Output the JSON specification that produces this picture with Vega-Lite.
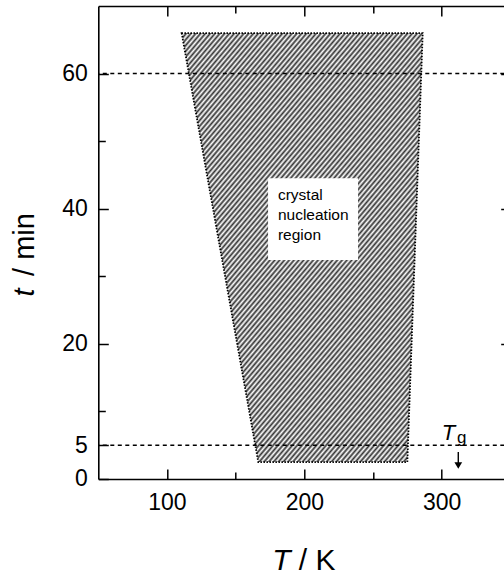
{
  "$schema": "https://vega.github.io/schema/vega-lite/v6.json",
  "width": 406,
  "height": 473,
  "autosize": {"type": "none"},
  "padding": {"left": 98.3, "top": 6, "right": 0, "bottom": 96},
  "config": {
    "view": {"stroke": null},
    "axis": {
      "grid": false,
      "labelFont": "Liberation Sans",
      "titleFont": "Liberation Sans",
      "labelColor": "#000",
      "titleColor": "#000",
      "tickColor": "#000",
      "domainColor": "#000",
      "tickWidth": 1.5,
      "domainWidth": 1.6,
      "labelFontSize": 23,
      "labelFontWeight": "normal",
      "titleFontWeight": "normal"
    }
  },
  "datasets": {
    "trap": [{"t": 66, "Tl": 110.7, "Tr": 286.2}, {"t": 2.5, "Tl": 166.5, "Tr": 275}],
    "box": [{"T1": 173.6, "T2": 239.1, "t1": 32.4, "t2": 44.5}],
    "hlines": [{"t": 60}, {"t": 5}],
    "label": [{"T": 180.8, "t": 42.0, "s": "crystal\nnucleation\nregion"}],
    "tgT": [{"T": 305.0, "t": 5.77, "s": "T"}],
    "tgg": [{"T": 314.6, "t": 5.3, "s": "g"}],
    "arrow": [{"T": 312.1, "t1": 4.0, "t2": 2.3}],
    "head": [{"T": 312.1, "t": 2.0}]
  },
  "resolve": {"axis": {"x": "independent", "y": "independent"}},
  "layer": [
    {
      "data": {"name": "trap"},
      "mark": {
        "type": "area",
        "orient": "horizontal",
        "interpolate": "linear",
        "stroke": "#000",
        "strokeDash": [1.5, 1.5],
        "strokeWidth": 1.8,
        "fill": {
          "gradient": "linear",
          "x1": 0, "y1": 0, "x2": 0.771, "y2": 1.153,
          "stops": [
            {"offset":0,"color":"#333"},{"offset":0.004,"color":"#fff"},{"offset":0.008,"color":"#333"},{"offset":0.012,"color":"#fff"},{"offset":0.016,"color":"#333"},{"offset":0.02,"color":"#fff"},{"offset":0.024,"color":"#333"},{"offset":0.028,"color":"#fff"},{"offset":0.032,"color":"#333"},{"offset":0.036,"color":"#fff"},
            {"offset":0.04,"color":"#333"},{"offset":0.044,"color":"#fff"},{"offset":0.048,"color":"#333"},{"offset":0.052,"color":"#fff"},{"offset":0.056,"color":"#333"},{"offset":0.06,"color":"#fff"},{"offset":0.064,"color":"#333"},{"offset":0.068,"color":"#fff"},{"offset":0.072,"color":"#333"},{"offset":0.076,"color":"#fff"},
            {"offset":0.08,"color":"#333"},{"offset":0.084,"color":"#fff"},{"offset":0.088,"color":"#333"},{"offset":0.092,"color":"#fff"},{"offset":0.096,"color":"#333"},{"offset":0.1,"color":"#fff"},{"offset":0.104,"color":"#333"},{"offset":0.108,"color":"#fff"},{"offset":0.112,"color":"#333"},{"offset":0.116,"color":"#fff"},
            {"offset":0.12,"color":"#333"},{"offset":0.124,"color":"#fff"},{"offset":0.128,"color":"#333"},{"offset":0.132,"color":"#fff"},{"offset":0.136,"color":"#333"},{"offset":0.14,"color":"#fff"},{"offset":0.144,"color":"#333"},{"offset":0.148,"color":"#fff"},{"offset":0.152,"color":"#333"},{"offset":0.156,"color":"#fff"},
            {"offset":0.16,"color":"#333"},{"offset":0.164,"color":"#fff"},{"offset":0.168,"color":"#333"},{"offset":0.172,"color":"#fff"},{"offset":0.176,"color":"#333"},{"offset":0.18,"color":"#fff"},{"offset":0.184,"color":"#333"},{"offset":0.188,"color":"#fff"},{"offset":0.192,"color":"#333"},{"offset":0.196,"color":"#fff"},
            {"offset":0.2,"color":"#333"},{"offset":0.204,"color":"#fff"},{"offset":0.208,"color":"#333"},{"offset":0.212,"color":"#fff"},{"offset":0.216,"color":"#333"},{"offset":0.22,"color":"#fff"},{"offset":0.224,"color":"#333"},{"offset":0.228,"color":"#fff"},{"offset":0.232,"color":"#333"},{"offset":0.236,"color":"#fff"},
            {"offset":0.24,"color":"#333"},{"offset":0.244,"color":"#fff"},{"offset":0.248,"color":"#333"},{"offset":0.252,"color":"#fff"},{"offset":0.256,"color":"#333"},{"offset":0.26,"color":"#fff"},{"offset":0.264,"color":"#333"},{"offset":0.268,"color":"#fff"},{"offset":0.272,"color":"#333"},{"offset":0.276,"color":"#fff"},
            {"offset":0.28,"color":"#333"},{"offset":0.284,"color":"#fff"},{"offset":0.288,"color":"#333"},{"offset":0.292,"color":"#fff"},{"offset":0.296,"color":"#333"},{"offset":0.3,"color":"#fff"},{"offset":0.304,"color":"#333"},{"offset":0.308,"color":"#fff"},{"offset":0.312,"color":"#333"},{"offset":0.316,"color":"#fff"},
            {"offset":0.32,"color":"#333"},{"offset":0.324,"color":"#fff"},{"offset":0.328,"color":"#333"},{"offset":0.332,"color":"#fff"},{"offset":0.336,"color":"#333"},{"offset":0.34,"color":"#fff"},{"offset":0.344,"color":"#333"},{"offset":0.348,"color":"#fff"},{"offset":0.352,"color":"#333"},{"offset":0.356,"color":"#fff"},
            {"offset":0.36,"color":"#333"},{"offset":0.364,"color":"#fff"},{"offset":0.368,"color":"#333"},{"offset":0.372,"color":"#fff"},{"offset":0.376,"color":"#333"},{"offset":0.38,"color":"#fff"},{"offset":0.384,"color":"#333"},{"offset":0.388,"color":"#fff"},{"offset":0.392,"color":"#333"},{"offset":0.396,"color":"#fff"},
            {"offset":0.4,"color":"#333"},{"offset":0.404,"color":"#fff"},{"offset":0.408,"color":"#333"},{"offset":0.412,"color":"#fff"},{"offset":0.416,"color":"#333"},{"offset":0.42,"color":"#fff"},{"offset":0.424,"color":"#333"},{"offset":0.428,"color":"#fff"},{"offset":0.432,"color":"#333"},{"offset":0.436,"color":"#fff"},
            {"offset":0.44,"color":"#333"},{"offset":0.444,"color":"#fff"},{"offset":0.448,"color":"#333"},{"offset":0.452,"color":"#fff"},{"offset":0.456,"color":"#333"},{"offset":0.46,"color":"#fff"},{"offset":0.464,"color":"#333"},{"offset":0.468,"color":"#fff"},{"offset":0.472,"color":"#333"},{"offset":0.476,"color":"#fff"},
            {"offset":0.48,"color":"#333"},{"offset":0.484,"color":"#fff"},{"offset":0.488,"color":"#333"},{"offset":0.492,"color":"#fff"},{"offset":0.496,"color":"#333"},{"offset":0.5,"color":"#fff"},{"offset":0.504,"color":"#333"},{"offset":0.508,"color":"#fff"},{"offset":0.512,"color":"#333"},{"offset":0.516,"color":"#fff"},
            {"offset":0.52,"color":"#333"},{"offset":0.524,"color":"#fff"},{"offset":0.528,"color":"#333"},{"offset":0.532,"color":"#fff"},{"offset":0.536,"color":"#333"},{"offset":0.54,"color":"#fff"},{"offset":0.544,"color":"#333"},{"offset":0.548,"color":"#fff"},{"offset":0.552,"color":"#333"},{"offset":0.556,"color":"#fff"},
            {"offset":0.56,"color":"#333"},{"offset":0.564,"color":"#fff"},{"offset":0.568,"color":"#333"},{"offset":0.572,"color":"#fff"},{"offset":0.576,"color":"#333"},{"offset":0.58,"color":"#fff"},{"offset":0.584,"color":"#333"},{"offset":0.588,"color":"#fff"},{"offset":0.592,"color":"#333"},{"offset":0.596,"color":"#fff"},
            {"offset":0.6,"color":"#333"},{"offset":0.604,"color":"#fff"},{"offset":0.608,"color":"#333"},{"offset":0.612,"color":"#fff"},{"offset":0.616,"color":"#333"},{"offset":0.62,"color":"#fff"},{"offset":0.624,"color":"#333"},{"offset":0.628,"color":"#fff"},{"offset":0.632,"color":"#333"},{"offset":0.636,"color":"#fff"},
            {"offset":0.64,"color":"#333"},{"offset":0.644,"color":"#fff"},{"offset":0.648,"color":"#333"},{"offset":0.652,"color":"#fff"},{"offset":0.656,"color":"#333"},{"offset":0.66,"color":"#fff"},{"offset":0.664,"color":"#333"},{"offset":0.668,"color":"#fff"},{"offset":0.672,"color":"#333"},{"offset":0.676,"color":"#fff"},
            {"offset":0.68,"color":"#333"},{"offset":0.684,"color":"#fff"},{"offset":0.688,"color":"#333"},{"offset":0.692,"color":"#fff"},{"offset":0.696,"color":"#333"},{"offset":0.7,"color":"#fff"},{"offset":0.704,"color":"#333"},{"offset":0.708,"color":"#fff"},{"offset":0.712,"color":"#333"},{"offset":0.716,"color":"#fff"},
            {"offset":0.72,"color":"#333"},{"offset":0.724,"color":"#fff"},{"offset":0.728,"color":"#333"},{"offset":0.732,"color":"#fff"},{"offset":0.736,"color":"#333"},{"offset":0.74,"color":"#fff"},{"offset":0.744,"color":"#333"},{"offset":0.748,"color":"#fff"},{"offset":0.752,"color":"#333"},{"offset":0.756,"color":"#fff"},
            {"offset":0.76,"color":"#333"},{"offset":0.764,"color":"#fff"},{"offset":0.768,"color":"#333"},{"offset":0.772,"color":"#fff"},{"offset":0.776,"color":"#333"},{"offset":0.78,"color":"#fff"},{"offset":0.784,"color":"#333"},{"offset":0.788,"color":"#fff"},{"offset":0.792,"color":"#333"},{"offset":0.796,"color":"#fff"},
            {"offset":0.8,"color":"#333"},{"offset":0.804,"color":"#fff"},{"offset":0.808,"color":"#333"},{"offset":0.812,"color":"#fff"},{"offset":0.816,"color":"#333"},{"offset":0.82,"color":"#fff"},{"offset":0.824,"color":"#333"},{"offset":0.828,"color":"#fff"},{"offset":0.832,"color":"#333"},{"offset":0.836,"color":"#fff"},
            {"offset":0.84,"color":"#333"},{"offset":0.844,"color":"#fff"},{"offset":0.848,"color":"#333"},{"offset":0.852,"color":"#fff"},{"offset":0.856,"color":"#333"},{"offset":0.86,"color":"#fff"},{"offset":0.864,"color":"#333"},{"offset":0.868,"color":"#fff"},{"offset":0.872,"color":"#333"},{"offset":0.876,"color":"#fff"},
            {"offset":0.88,"color":"#333"},{"offset":0.884,"color":"#fff"},{"offset":0.888,"color":"#333"},{"offset":0.892,"color":"#fff"},{"offset":0.896,"color":"#333"},{"offset":0.9,"color":"#fff"},{"offset":0.904,"color":"#333"},{"offset":0.908,"color":"#fff"},{"offset":0.912,"color":"#333"},{"offset":0.916,"color":"#fff"},
            {"offset":0.92,"color":"#333"},{"offset":0.924,"color":"#fff"},{"offset":0.928,"color":"#333"},{"offset":0.932,"color":"#fff"},{"offset":0.936,"color":"#333"},{"offset":0.94,"color":"#fff"},{"offset":0.944,"color":"#333"},{"offset":0.948,"color":"#fff"},{"offset":0.952,"color":"#333"},{"offset":0.956,"color":"#fff"},
            {"offset":0.96,"color":"#333"},{"offset":0.964,"color":"#fff"},{"offset":0.968,"color":"#333"},{"offset":0.972,"color":"#fff"},{"offset":0.976,"color":"#333"},{"offset":0.98,"color":"#fff"},{"offset":0.984,"color":"#333"},{"offset":0.988,"color":"#fff"},{"offset":0.992,"color":"#333"},{"offset":0.996,"color":"#fff"},
            {"offset":1,"color":"#333"}
          ]
        }
      },
      "encoding": {
        "y": {
          "field": "t", "type": "quantitative",
          "scale": {"domain": [0, 70], "nice": false, "zero": false},
          "axis": {
            "orient": "left", "values": [0, 5, 20, 40, 60], "tickSize": -10, "labelPadding": 21,
            "domain": true, "title": "t", "titleFontStyle": "italic", "titleFontSize": 29,
            "titleAngle": -90, "titleBaseline": "alphabetic", "titleAlign": "center",
            "titleX": -64.8, "titleY": 286
          }
        },
        "x": {
          "field": "Tl", "type": "quantitative",
          "scale": {"domain": [50, 345.6], "nice": false, "zero": false},
          "axis": {
            "orient": "bottom", "values": [100, 200, 300], "tickSize": -10, "labelPadding": 23,
            "domain": true, "title": "T", "titleFontStyle": "italic", "titleFontSize": 30,
            "titleBaseline": "alphabetic", "titleAlign": "center", "titleX": 182.7, "titleY": 91
          }
        },
        "x2": {"field": "Tr"}
      }
    },
    {
      "data": {"name": "box"},
      "mark": {"type": "rect", "fill": "#fff", "stroke": null},
      "encoding": {
        "x": {
          "field": "T1", "type": "quantitative",
          "scale": {"domain": [50, 345.6], "nice": false, "zero": false},
          "axis": {"orient": "top", "values": [100, 200, 300], "tickSize": -10, "labels": false, "domain": true, "title": null}
        },
        "x2": {"field": "T2"},
        "y": {
          "field": "t1", "type": "quantitative",
          "scale": {"domain": [0, 70], "nice": false, "zero": false},
          "axis": {"orient": "right", "values": [20, 40, 60], "tickSize": -10, "labels": false, "domain": false, "title": null, "offset": 6.4}
        },
        "y2": {"field": "t2"}
      }
    },
    {
      "data": {"name": "label"},
      "mark": {"type": "text", "align": "left", "baseline": "middle", "lineBreak": "\n", "lineHeight": 20, "font": "Liberation Sans", "fontSize": 15.5, "color": "#000"},
      "encoding": {
        "x": {
          "field": "T", "type": "quantitative",
          "scale": {"domain": [50, 345.6], "nice": false, "zero": false},
          "axis": {
            "orient": "bottom", "values": [150, 250], "tickSize": -7, "labels": false, "domain": false,
            "title": "/ K", "titleFontSize": 30, "titleBaseline": "alphabetic", "titleAlign": "center",
            "titleX": 218.4, "titleY": 91
          }
        },
        "y": {
          "field": "t", "type": "quantitative",
          "scale": {"domain": [0, 70], "nice": false, "zero": false},
          "axis": {
            "orient": "left", "values": [10, 30, 50], "tickSize": -7, "labels": false, "domain": false,
            "title": "/ min", "titleFontSize": 29, "titleAngle": -90, "titleBaseline": "alphabetic",
            "titleAlign": "center", "titleX": -64.8, "titleY": 238
          }
        },
        "text": {"field": "s"}
      }
    },
    {
      "data": {"name": "hlines"},
      "mark": {"type": "rule", "color": "#000", "strokeDash": [4, 3.5], "strokeWidth": 1.4},
      "encoding": {
        "y": {"field": "t", "type": "quantitative", "scale": {"domain": [0, 70], "nice": false, "zero": false}, "axis": null}
      }
    },
    {
      "data": {"name": "tgT"},
      "mark": {"type": "text", "align": "center", "baseline": "alphabetic", "font": "Liberation Sans", "fontStyle": "italic", "fontSize": 22, "color": "#000"},
      "encoding": {
        "x": {
          "field": "T", "type": "quantitative",
          "scale": {"domain": [50, 345.6], "nice": false, "zero": false},
          "axis": {"orient": "top", "values": [150, 250], "tickSize": -7, "labels": false, "domain": false, "title": null}
        },
        "y": {
          "field": "t", "type": "quantitative",
          "scale": {"domain": [0, 70], "nice": false, "zero": false},
          "axis": {"orient": "right", "values": [10, 30, 50], "tickSize": -7, "labels": false, "domain": false, "title": null, "offset": 6.4}
        },
        "text": {"field": "s"}
      }
    },
    {
      "data": {"name": "tgg"},
      "mark": {"type": "text", "align": "center", "baseline": "alphabetic", "font": "Liberation Sans", "fontSize": 17, "color": "#000"},
      "encoding": {
        "x": {"field": "T", "type": "quantitative", "scale": {"domain": [50, 345.6], "nice": false, "zero": false}, "axis": null},
        "y": {"field": "t", "type": "quantitative", "scale": {"domain": [0, 70], "nice": false, "zero": false}, "axis": null},
        "text": {"field": "s"}
      }
    },
    {
      "data": {"name": "arrow"},
      "mark": {"type": "rule", "color": "#000", "strokeWidth": 1.4},
      "encoding": {
        "x": {"field": "T", "type": "quantitative", "scale": {"domain": [50, 345.6], "nice": false, "zero": false}, "axis": null},
        "y": {"field": "t1", "type": "quantitative", "scale": {"domain": [0, 70], "nice": false, "zero": false}, "axis": null},
        "y2": {"field": "t2"}
      }
    },
    {
      "data": {"name": "head"},
      "mark": {"type": "point", "shape": "triangle-down", "filled": true, "color": "#000", "size": 60, "opacity": 1},
      "encoding": {
        "x": {"field": "T", "type": "quantitative", "scale": {"domain": [50, 345.6], "nice": false, "zero": false}, "axis": null},
        "y": {"field": "t", "type": "quantitative", "scale": {"domain": [0, 70], "nice": false, "zero": false}, "axis": null}
      }
    }
  ]
}
